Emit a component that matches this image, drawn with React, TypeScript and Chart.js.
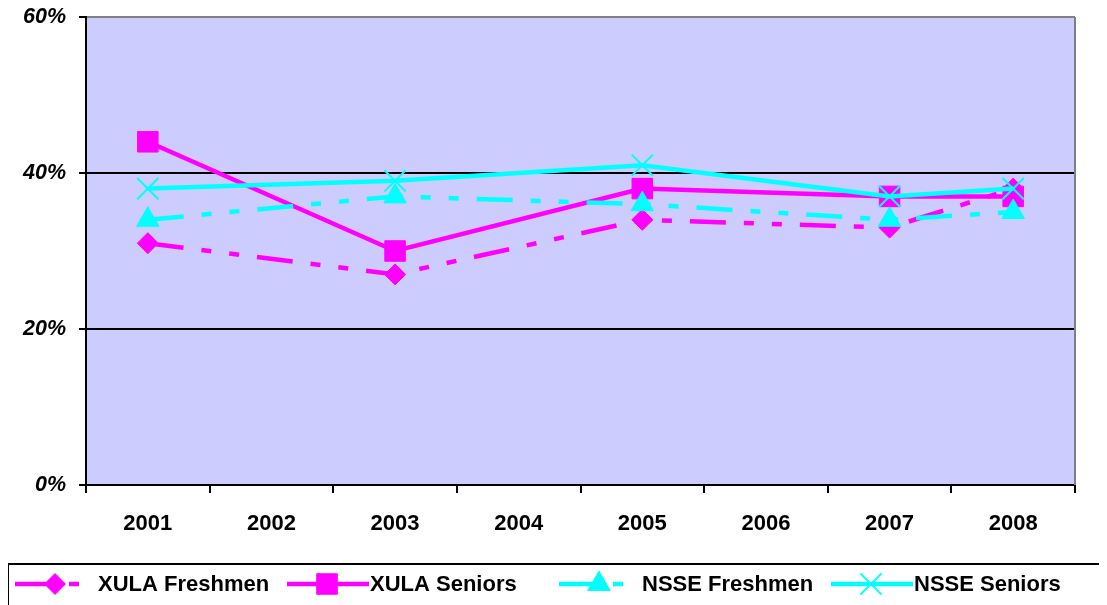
import React, { useEffect, useRef } from "react";
import { Chart, registerables } from "chart.js";
import { drawPoint } from "chart.js/helpers";

Chart.register(...registerables);

const categories = ["2001", "2002", "2003", "2004", "2005", "2006", "2007", "2008"];
const seriesNames = ["XULA Freshmen", "XULA Seniors", "NSSE Freshmen", "NSSE Seniors"];
const xulaFreshmen = [31, null, 27, null, 34, null, 33, 38];
const xulaSeniors = [44, null, 30, null, 38, null, 37, 37];
const nsseFreshmen = [34, null, 37, null, 36, null, 34, 35];
const nsseSeniors = [38, null, 39, null, 41, null, 37, 38];
const yTickValues = [0, 20, 40, 60];

const MAGENTA = "#FF00FF";
const CYAN = "#00FFFF";
const DASH = [36, 18, 10, 18, 10, 18];
const FONT_FAMILY = '"Liberation Sans", Arial, sans-serif';

const bgPlugin = {
  id: "plotBg",
  beforeDraw(chart: any) {
    const { ctx, chartArea } = chart;
    ctx.save();
    ctx.fillStyle = "#CCCCFF";
    ctx.fillRect(chartArea.left, chartArea.top, chartArea.right - chartArea.left, chartArea.bottom - chartArea.top);
    ctx.restore();
  },
  beforeDatasetsDraw(chart: any) {
    const { ctx, chartArea } = chart;
    ctx.save();
    ctx.strokeStyle = "#808080";
    ctx.lineWidth = 2;
    ctx.beginPath();
    ctx.moveTo(chartArea.right, chartArea.top);
    ctx.lineTo(chartArea.right, chartArea.bottom);
    ctx.stroke();
    ctx.restore();
  },
};

const legendPlugin = {
  id: "customLegend",
  afterDraw(chart: any) {
    const { ctx, width, height } = chart;
    const boxTop = 556;
    const cy = 576;
    ctx.save();
    ctx.strokeStyle = "#000";
    ctx.lineWidth = 2;
    ctx.strokeRect(0, boxTop, width + 10, height - boxTop + 10);
    ctx.font = `bold 22px ${FONT_FAMILY}`;
    ctx.textBaseline = "middle";
    ctx.textAlign = "left";
    const startX = 7;
    const slot = 272;
    const sampleW = 82;
    chart.data.datasets.forEach((ds: any, i: number) => {
      const x = startX + i * slot;
      ctx.save();
      ctx.strokeStyle = ds.borderColor;
      ctx.lineWidth = ds.borderWidth;
      ctx.setLineDash(ds.borderDash || []);
      ctx.beginPath();
      ctx.moveTo(x, cy);
      ctx.lineTo(x + sampleW, cy);
      ctx.stroke();
      ctx.setLineDash([]);
      ctx.fillStyle = ds.pointBackgroundColor;
      ctx.strokeStyle = ds.pointBorderColor;
      ctx.lineWidth = ds.pointBorderWidth;
      drawPoint(ctx, { pointStyle: ds.pointStyle, radius: ds.pointRadius, rotation: 0, borderWidth: ds.pointBorderWidth }, x + 40, cy);
      ctx.restore();
      ctx.fillStyle = "#000";
      ctx.fillText(ds.label, x + sampleW + 1, cy + 1);
    });
    ctx.restore();
  },
};

export default function App() {
  const ref = useRef<HTMLCanvasElement | null>(null);
  useEffect(() => {
    if (!ref.current) return;
    const common = { borderWidth: 4.5, tension: 0, spanGaps: true };
    const chart = new Chart(ref.current, {
      type: "line",
      data: {
        labels: categories,
        datasets: [
          {
            ...common,
            label: seriesNames[0],
            data: xulaFreshmen,
            borderColor: MAGENTA,
            borderDash: DASH,
            pointStyle: "rectRot",
            pointRadius: 10.5,
            pointBackgroundColor: MAGENTA,
            pointBorderColor: MAGENTA,
            pointBorderWidth: 1,
            order: 4,
          },
          {
            ...common,
            label: seriesNames[1],
            data: xulaSeniors,
            borderColor: MAGENTA,
            pointStyle: "rect",
            pointRadius: 14.5,
            pointBackgroundColor: MAGENTA,
            pointBorderColor: MAGENTA,
            pointBorderWidth: 1,
            order: 3,
          },
          {
            ...common,
            label: seriesNames[2],
            data: nsseFreshmen,
            borderColor: CYAN,
            borderDash: DASH,
            pointStyle: "triangle",
            pointRadius: 13,
            pointBackgroundColor: CYAN,
            pointBorderColor: CYAN,
            pointBorderWidth: 1,
            order: 2,
          },
          {
            ...common,
            label: seriesNames[3],
            data: nsseSeniors,
            borderColor: CYAN,
            pointStyle: "crossRot",
            pointRadius: 15,
            pointBackgroundColor: CYAN,
            pointBorderColor: CYAN,
            pointBorderWidth: 2,
            order: 1,
          },
        ] as any,
      },
      options: {
        animation: false,
        responsive: false,
        devicePixelRatio: 1,
        layout: { autoPadding: false, padding: { top: 9, right: 32, bottom: 50, left: 0 } },
        plugins: { legend: { display: false }, tooltip: { enabled: false } },
        events: [],
        scales: {
          x: {
            type: "category",
            offset: true,
            grid: {
              offset: true,
              drawOnChartArea: false,
              drawTicks: true,
              tickLength: 8,
              color: "#000",
              lineWidth: 2,
            },
            border: { color: "#000", width: 2 },
            ticks: {
              color: "#000",
              padding: 18,
              font: { family: FONT_FAMILY, size: 22, weight: "bold" },
              maxRotation: 0,
              autoSkip: false,
            },
            afterFit(scale: any) {
              scale.height = 70;
              scale.paddingLeft = 0;
              scale.paddingRight = 0;
            },
          },
          y: {
            min: 0,
            max: 60,
            afterBuildTicks(scale: any) {
              scale.ticks = yTickValues.map((v) => ({ value: v }));
            },
            grid: {
              color: (c: any) => (c.tick && c.tick.value === 60 ? "#808080" : "#000"),
              tickColor: "#000",
              lineWidth: 2,
              tickLength: 7,
            },
            border: { color: "#000", width: 2 },
            ticks: {
              color: "#000",
              padding: 13,
              font: { family: FONT_FAMILY, size: 21.5, weight: "bold", style: "italic", lineHeight: 0.8 },
              callback: (v: any) => `${v}%`,
            },
            afterFit(scale: any) {
              scale.width = 78;
              scale.paddingTop = 0;
              scale.paddingBottom = 0;
            },
          },
        },
      } as any,
      plugins: [bgPlugin, legendPlugin],
    });
    return () => chart.destroy();
  }, []);
  return (
    <div style={{ width: 1099, height: 597 }}>
      <canvas ref={ref} width={1099} height={597} style={{ display: "block", width: 1099, height: 597 }} />
    </div>
  );
}
